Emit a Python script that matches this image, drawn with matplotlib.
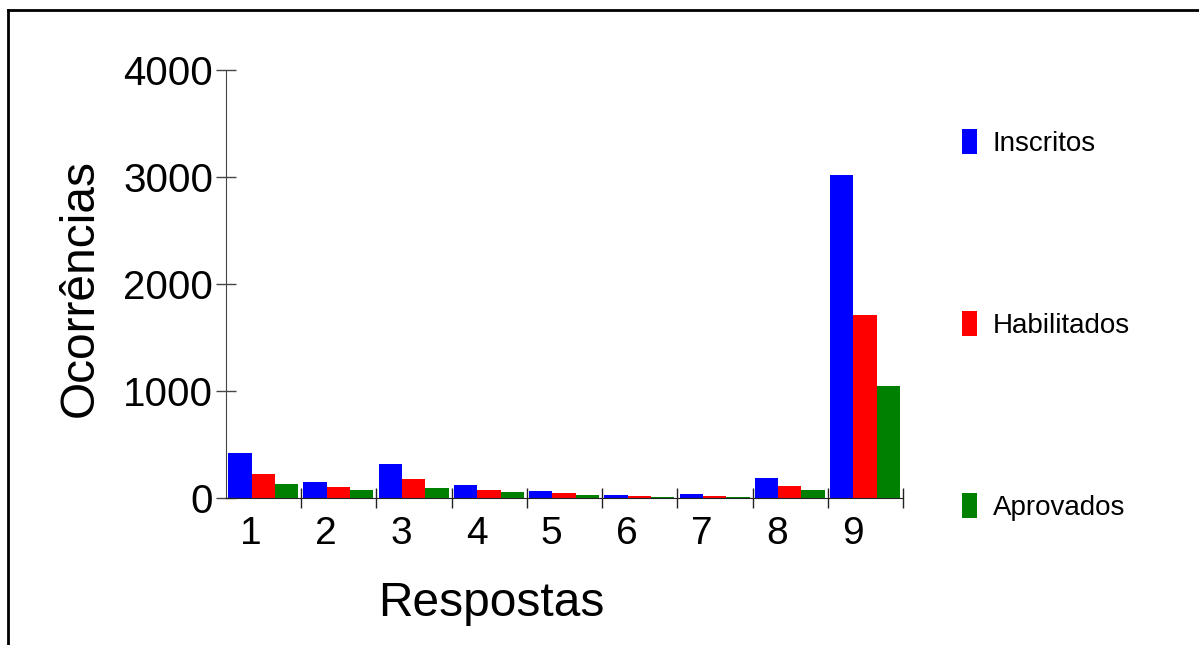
import numpy as np
import matplotlib
matplotlib.use("Agg")
import matplotlib.pyplot as plt
from matplotlib.lines import Line2D

plt.rcParams["font.family"] = ["Liberation Sans", "DejaVu Sans"]

# ── data ────────────────────────────────────────────────────────────
categories = ["1", "2", "3", "4", "5", "6", "7", "8", "9"]
inscritos  = [418, 152, 314, 121, 68, 31, 37, 190, 3017]
habilitados = [227, 103, 178, 78, 43, 21, 21, 115, 1708]
aprovados  = [128, 71, 90, 59, 31, 12, 12, 78, 1044]
series_labels = ["Inscritos", "Habilitados", "Aprovados"]
series_colors = ["#0000ff", "#ff0000", "#008000"]
y_ticks = [0, 1000, 2000, 3000, 4000]

W, H = 1199, 645
fig = plt.figure(figsize=(W / 100, H / 100), dpi=100)
ax = fig.add_axes([226 / W, (H - 498) / H, 677 / W, 428 / H])

x = np.arange(len(categories))
bar_w = 0.31
offset = 0.03
for k, (vals, lab, col) in enumerate(zip([inscritos, habilitados, aprovados],
                                         series_labels, series_colors)):
    ax.bar(x + offset + k * bar_w, vals, width=bar_w, align="edge",
           color=col, label=lab, linewidth=0)

ax.set_xlim(0, len(categories))
ax.set_ylim(0, 4000)

# category labels (no tick marks) + boundary ticks crossing the axis
ax.set_xticks(x + 0.33)
ax.set_xticklabels(categories, fontsize=28)
ax.tick_params(axis="x", which="major", length=0, pad=13)
ax.set_xticks(np.arange(1, len(categories) + 1), minor=True)
ax.tick_params(axis="x", which="minor", direction="inout", length=15,
               width=1, color="#222222")

ax.set_yticks(y_ticks)
ax.set_yticklabels([str(v) for v in y_ticks], fontsize=29)
ax.tick_params(axis="y", direction="inout", length=14.5, width=1,
               color="#444444", pad=2)

for s in ["top", "right"]:
    ax.spines[s].set_visible(False)
ax.spines["left"].set_color("#444444")
ax.spines["bottom"].set_color("#222222")

fig.text(491 / W, (H - 604) / H, "Respostas", fontsize=34.5,
         ha="center", va="center")
fig.text(80 / W, (H - 288) / H, "Ocorrências", fontsize=34.5,
         rotation=90, ha="center", va="center")

ax.legend(loc="upper left", bbox_to_anchor=(962 / W, (H - 129) / H),
          bbox_transform=fig.transFigure, frameon=False, fontsize=20,
          handlelength=0.55, handleheight=1.0, handletextpad=0.55,
          labelspacing=5.55, borderpad=0, borderaxespad=0)

# outer frame (top and left edges visible)
fig.add_artist(Line2D([8 / W, 8 / W], [0, (H - 10) / H], color="black",
                      linewidth=2, transform=fig.transFigure))
fig.add_artist(Line2D([8 / W, 1], [(H - 10) / H, (H - 10) / H], color="black",
                      linewidth=2, transform=fig.transFigure))

fig.savefig("out.png", dpi=100)
